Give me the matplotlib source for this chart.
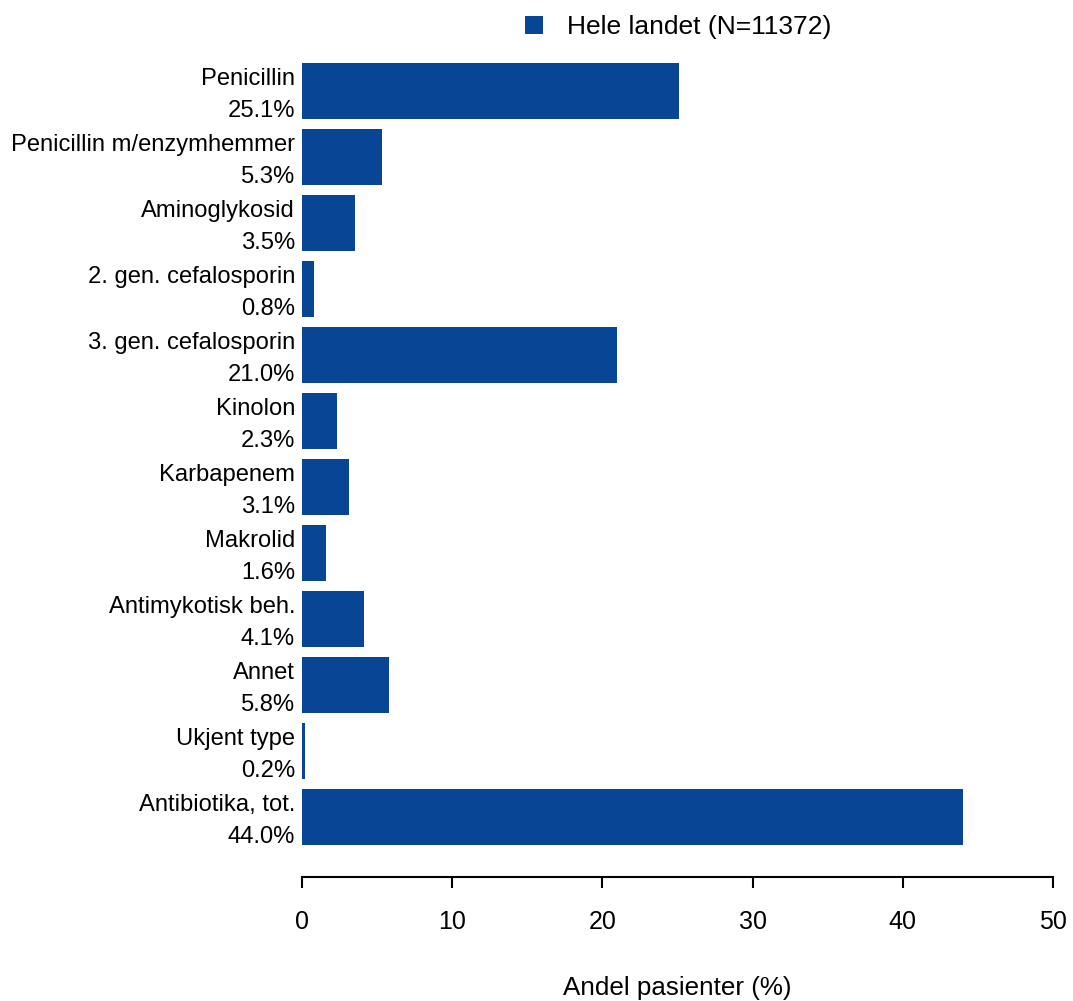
import matplotlib
matplotlib.use('Agg')
import matplotlib.pyplot as plt
import matplotlib.transforms as mtransforms
import numpy as np

# data
categories = ['Penicillin', 'Penicillin m/enzymhemmer', 'Aminoglykosid',
              '2. gen. cefalosporin', '3. gen. cefalosporin', 'Kinolon',
              'Karbapenem', 'Makrolid', 'Antimykotisk beh.', 'Annet',
              'Ukjent type', 'Antibiotika, tot.']
values = [25.1, 5.3, 3.5, 0.8, 21.0, 2.3, 3.1, 1.6, 4.1, 5.8, 0.2, 44.0]
series_name = 'Hele landet (N=11372)'
xticks = [0, 10, 20, 30, 40, 50]

plt.rcParams['font.family'] = ['Liberation Sans', 'DejaVu Sans']
bar_color = '#084594'

fig = plt.figure(figsize=(10.73, 10.01), dpi=100)
ax = fig.add_axes([302 / 1073, 1 - 856.6 / 1001, 751 / 1073, (856.6 - 51.4) / 1001])

pos = np.arange(len(categories))
bars = ax.barh(pos, values, height=0.85, color=bar_color, label=series_name)

ax.set_ylim(len(categories) - 1 + 0.6, -0.6)
ax.set_xlim(0, 50)

# category name on first line, share on the second
ylabels = ['{}\n{:.1f}%'.format(c, v) for c, v in zip(categories, values)]
ax.set_yticks(pos)
ax.set_yticklabels(ylabels, linespacing=1.6)
ax.tick_params(axis='y', length=0, pad=5, labelsize=17.1)
# nudge the two-line labels up a little so they sit centred on the bars
shift = mtransforms.ScaledTranslation(0, 3.5 / 100, fig.dpi_scale_trans)
for lab in ax.get_yticklabels():
    lab.set_transform(lab.get_transform() + shift)

ax.set_xticks(xticks)
ax.set_xticklabels([str(t) for t in xticks])
ax.tick_params(axis='x', length=8, width=1.5, pad=16, color='black', labelsize=18)

for s in ['top', 'right', 'left']:
    ax.spines[s].set_visible(False)
ax.spines['bottom'].set_position(('outward', 14.7))
ax.spines['bottom'].set_linewidth(1.5)

ax.set_xlabel('Andel pasienter (%)', fontsize=18.7, labelpad=30)

fig.legend(handles=[bars], labels=[series_name], loc='center',
           bbox_to_anchor=(0.632, 0.973), frameon=False, fontsize=19,
           handlelength=0.68, handleheight=0.68, handletextpad=0.9)

fig.savefig('out.png', dpi=100)
